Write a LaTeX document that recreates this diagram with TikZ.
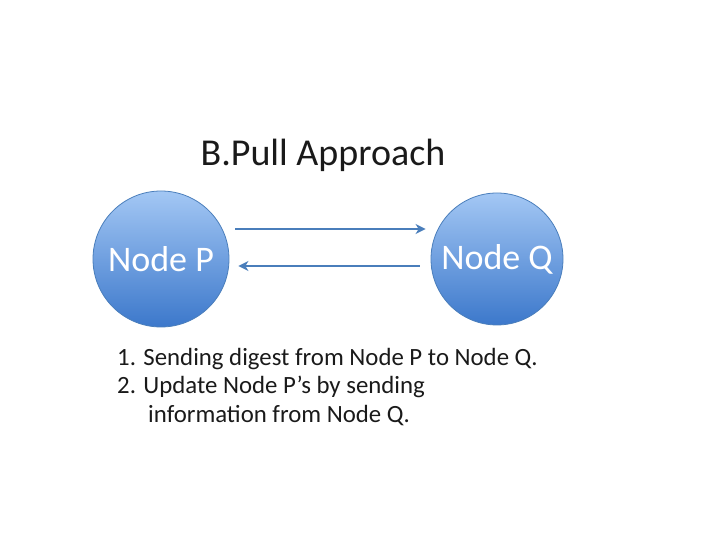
\documentclass[tikz,border=0pt]{standalone}
\usepackage{fontspec}
\setmainfont{Carlito}
\usetikzlibrary{arrows.meta,shadings}
\definecolor{edgeblue}{HTML}{4A7EBB}
\definecolor{toplight}{HTML}{A3C7F4}
\definecolor{botdark}{HTML}{3C78CB}
\definecolor{txt}{HTML}{1A1A1A}
\tikzset{
  ballnode/.style={circle, draw=edgeblue, line width=0.8pt, top color=toplight, bottom color=botdark, text=white, font=\fontsize{36}{40}\selectfont, inner sep=0pt},
  link/.style={draw=edgeblue, line width=2pt, -{Stealth[length=10pt,width=10pt,inset=3pt]}}
}
\begin{document}
\begin{tikzpicture}[x=1pt,y=1pt]
\useasboundingbox (0,0) rectangle (720,540);
\node[txt, font=\fontsize{38}{44}\selectfont] (title) at (323,385) {B.Pull Approach};
\node[ballnode, minimum size=136pt] (P) at (161,281) {Node P};
\node[ballnode, minimum size=132pt] (Q) at (497,281) {Node Q};
\draw[link] ([xshift=6pt,yshift=30pt]P.east) -- ([xshift=-5pt,yshift=30pt]Q.west);
\draw[link] ([xshift=-11pt,yshift=-7pt]Q.west) -- ([xshift=9pt,yshift=-7pt]P.east);
\node[txt, anchor=west, font=\fontsize{24.8}{28.5}\selectfont, align=left, inner sep=0pt] (notes) at (117,153) {1. Sending digest from Node P to Node Q.\\2. Update Node P’s by sending\\\hspace*{31pt}information from Node Q.};
\end{tikzpicture}
\end{document}
